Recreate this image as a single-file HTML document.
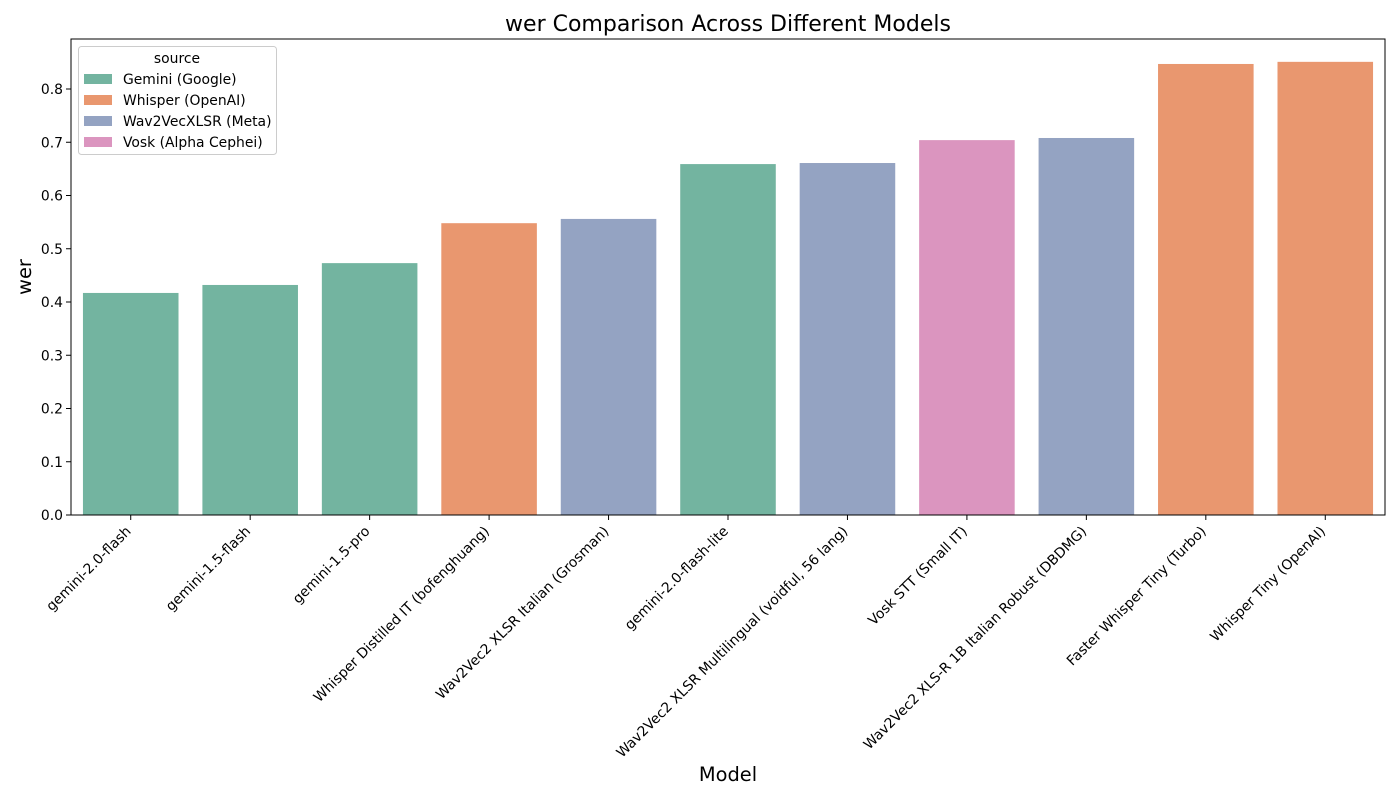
<!DOCTYPE html>
<html><head><meta charset="utf-8"><style>
html,body{margin:0;padding:0;background:#fff;}
svg{display:block;font-family:"DejaVu Sans","Liberation Sans",sans-serif;}
</style></head><body>
<svg id="chart" width="1400" height="800"></svg>
<script>
const categories=["gemini-2.0-flash","gemini-1.5-flash","gemini-1.5-pro","Whisper Distilled IT (bofenghuang)","Wav2Vec2 XLSR Italian (Grosman)","gemini-2.0-flash-lite","Wav2Vec2 XLSR Multilingual (voidful, 56 lang)","Vosk STT (Small IT)","Wav2Vec2 XLS-R 1B Italian Robust (DBDMG)","Faster Whisper Tiny (Turbo)","Whisper Tiny (OpenAI)"];
const werValues=[0.417,0.432,0.473,0.548,0.556,0.659,0.661,0.704,0.708,0.847,0.851];
const sources=[0,0,0,1,2,0,2,3,2,1,1];
const sourceNames=["Gemini (Google)","Whisper (OpenAI)","Wav2VecXLSR (Meta)","Vosk (Alpha Cephei)"];
const yTicks=[0,0.1,0.2,0.3,0.4,0.5,0.6,0.7,0.8];
const yTickLabels=["0.0","0.1","0.2","0.3","0.4","0.5","0.6","0.7","0.8"];
const colors=["#73b4a0","#e9976f","#94a3c2","#db95bf"];
const NS="http://www.w3.org/2000/svg";
const svg=document.getElementById('chart');
const L=71,R=1385,T=39,B=515;
const yScale=v=>B-v*532.5;
const slot=(R-L)/categories.length;
const xCenter=i=>L+slot*(i+0.5);
function mk(tag,attrs,text){const e=document.createElementNS(NS,tag);for(const k in attrs)e.setAttribute(k,attrs[k]);if(text!==undefined)e.textContent=text;svg.appendChild(e);return e;}
categories.forEach((c,i)=>{
  const y=yScale(werValues[i]);
  const r=mk('rect',{x:xCenter(i)-slot*0.4,y:y,width:slot*0.8,height:B-y,fill:colors[sources[i]]});
  
  
  const t=mk('line',{x1:xCenter(i),x2:xCenter(i),y1:B,y2:B+5,stroke:'#000','stroke-width':1});
  
  
  const lx=xCenter(i)+1,ly=B+17;
  const lab=mk('text',{x:lx,y:ly,'font-size':13.9,'text-anchor':'end',transform:`rotate(-45 ${lx} ${ly})`},c);
  
  
});
yTicks.forEach((v,i)=>{
  const y=yScale(v);
  const t=mk('line',{x1:L-5,x2:L,y1:y,y2:y,stroke:'#000','stroke-width':1});
  
  
  const lab=mk('text',{x:L-8,y:y+5,'font-size':13.9,'text-anchor':'end'},yTickLabels[i]);
  
  
});
const frame=mk('rect',{x:L,y:T,width:R-L,height:B-T,fill:'none',stroke:'#000','stroke-width':1});


const title=mk('text',{x:728,y:31,'font-size':22,'text-anchor':'middle'},'wer Comparison Across Different Models');


const xt=mk('text',{x:728,y:781,'font-size':19.4,'text-anchor':'middle'},'Model');


const yt=mk('text',{x:31,y:277,'font-size':19.4,'text-anchor':'middle',transform:'rotate(-90 31 277)'},'wer');


const lg=mk('rect',{x:78.5,y:46.5,width:198,height:108,rx:3,fill:'#fff','fill-opacity':0.8,stroke:'#ccc','stroke-width':1});


const lt=mk('text',{x:177,y:63,'font-size':13.9,'text-anchor':'middle'},'source');


sourceNames.forEach((n,i)=>{
  const y=74+i*21;
  const p=mk('rect',{x:84,y:y,width:28,height:10,fill:colors[i]});
  
  
  const tx=mk('text',{x:123,y:y+10,'font-size':13.9},n);
  
  
});
</script>
</body></html>
